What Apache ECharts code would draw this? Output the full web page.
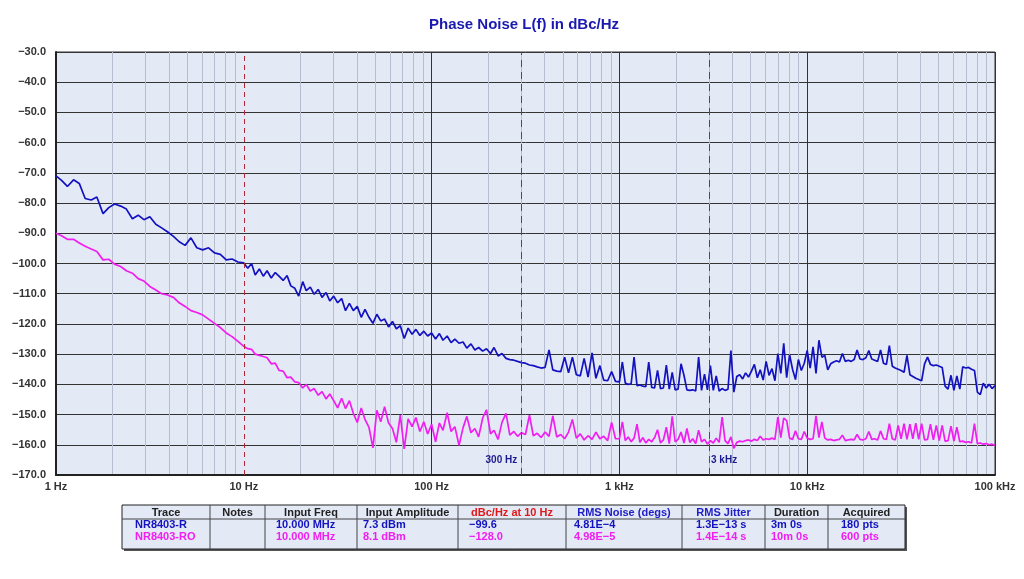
<!DOCTYPE html>
<html>
<head>
<meta charset="utf-8">
<script src="https://cdn.jsdelivr.net/npm/echarts@6/dist/echarts.min.js"></script>
<style>
html,body{margin:0;padding:0;background:#fff;}
#chart{width:1024px;height:579px;}
</style>
</head>
<body>
<div id="chart"></div>
<script>
// ---------- data ----------
const freqHz = [
  1,1.07,1.15,1.24,1.33,1.43,1.54,1.65,1.78,1.91,2.05,2.21,2.37,2.55,2.74,2.94,3.16,3.4,3.65,3.92,4.22,4.53,4.87,5.23,5.62,6.04,6.49,6.98,7.5,8.06,8.66,9.31,
  10,10.5,11,11.5,12.1,12.7,13.3,14,14.7,15.4,16.2,17,17.8,18.7,19.6,20.6,21.5,22.6,23.7,24.9,26.1,27.4,28.7,30.1,31.6,33.2,34.8,36.5,38.3,40.2,42.2,44.2,46.4,48.7,51.1,53.6,56.2,59,61.9,64.9,68.1,71.5,75,78.7,82.5,86.6,90.9,95.3,
  100,105,110,115,121,127,133,140,147,154,162,170,178,187,196,206,215,226,237,249,261,274,287,301,316,332,348,365,383,402,422,442,464,487,511,536,562,590,619,649,681,715,750,787,825,866,909,953,
  1000,1037,1075,1114,1155,1197,1241,1286,1334,1382,1433,1486,1540,1596,1655,1715,1778,1843,1911,1981,2054,2129,2207,2288,2371,2458,2548,2642,2738,2839,2943,3051,3162,3278,3398,3523,3652,3786,3924,4068,4217,4371,4532,4698,4870,5048,5233,5425,5623,5829,6043,6264,6494,6732,6978,7234,7499,7774,8058,8354,8660,8977,9306,9647,
  10000,10366,10746,11140,11548,11971,12409,12864,13335,13824,14330,14855,15399,15963,16548,17154,17783,18434,19110,19810,20535,21288,22067,22876,23714,24582,25483,26416,27384,28387,29427,30505,31623,32781,33982,35227,36517,37855,39242,40679,42170,43714,45316,46976,48697,50481,52330,54247,56234,58294,60430,62643,64938,67317,69783,72339,74989,77736,80584,83536,86596,89768,93057,96466,
  100000
];
// NR8403-R (dBc/Hz)
const traceR = [
  -71.0,-72.5,-74.5,-72.3,-73.5,-78.5,-79.0,-78.0,-83.5,-81.5,-80.3,-81.0,-82.0,-85.2,-84.0,-85.5,-84.5,-87.0,-88.2,-89.5,-91.0,-92.8,-94.0,-91.5,-94.8,-95.5,-94.8,-96.5,-97.0,-98.8,-98.5,-99.5,
  -99.8,-101.6,-100.0,-103.8,-101.8,-104.2,-102.4,-104.8,-103.0,-104.2,-105.6,-104.0,-107.4,-108.2,-110.8,-106.0,-109.0,-107.8,-110.2,-108.6,-111.2,-109.6,-112.4,-110.8,-113.0,-111.6,-115.6,-113.2,-115.6,-114.2,-117.8,-115.2,-117.8,-119.8,-116.8,-119.0,-118.4,-121.0,-119.2,-121.6,-120.6,-124.8,-121.4,-123.4,-121.8,-123.8,-122.4,-124.0,
  -123.0,-125.0,-123.2,-125.4,-124.0,-126.2,-125.0,-126.4,-126.0,-128.0,-126.6,-128.6,-127.8,-129.0,-128.2,-129.8,-127.8,-130.6,-129.8,-131.4,-131.8,-132.0,-132.4,-132.8,-133.0,-133.6,-133.8,-134.2,-134.6,-134.4,-128.6,-135.2,-135.6,-135.8,-131.0,-136.2,-131.0,-136.8,-137.2,-131.4,-137.6,-129.6,-138.0,-133.8,-138.6,-138.8,-135.8,-139.0,
  -139.2,-132.6,-139.6,-140.0,-139.8,-131.0,-140.4,-140.2,-140.6,-140.8,-132.6,-141.0,-141.2,-135.4,-141.4,-141.2,-133.6,-141.6,-136.0,-141.8,-141.6,-133.2,-137.0,-141.8,-142.0,-141.8,-142.2,-131.0,-142.0,-136.6,-141.8,-133.8,-142.0,-137.2,-142.2,-141.4,-142.0,-141.6,-128.8,-142.6,-137.4,-136.8,-138.2,-136.2,-137.6,-135.6,-133.4,-137.8,-135.2,-138.6,-132.4,-137.0,-134.8,-138.8,-129.8,-136.4,-126.4,-137.8,-130.2,-135.0,-138.4,-131.8,-135.4,-133.0,
  -128.8,-134.6,-127.6,-136.4,-125.4,-131.0,-130.4,-135.2,-133.2,-132.6,-132.2,-132.6,-129.8,-132.4,-132.0,-132.4,-131.8,-128.6,-131.6,-131.8,-131.2,-128.8,-131.6,-132.0,-132.4,-128.6,-133.0,-133.4,-127.2,-134.0,-134.6,-135.0,-135.4,-136.0,-130.4,-136.8,-137.4,-138.0,-138.4,-138.8,-133.2,-131.0,-133.4,-133.8,-133.6,-134.0,-134.4,-140.6,-141.6,-137.0,-142.0,-137.2,-141.6,-134.2,-134.6,-134.4,-135.0,-135.4,-142.6,-143.4,-139.6,-141.2,-140.0,-141.4,
  -140.4
];
// NR8403-RO (dBc/Hz)
const traceRO = [
  -90.0,-90.8,-92.0,-92.0,-93.2,-94.3,-95.2,-96.0,-98.8,-98.6,-100.2,-101.0,-102.4,-103.2,-105.0,-105.8,-107.6,-108.8,-110.0,-110.4,-111.2,-113.0,-114.2,-115.6,-116.2,-117.0,-118.4,-119.8,-121.2,-123.0,-124.2,-125.8,
  -127.4,-128.2,-128.4,-130.0,-130.4,-130.8,-131.2,-133.2,-133.0,-135.4,-135.6,-137.8,-137.6,-139.2,-139.4,-141.2,-140.0,-142.2,-141.4,-143.6,-142.4,-144.8,-143.2,-145.4,-147.8,-144.6,-148.0,-145.4,-149.6,-152.6,-147.8,-151.6,-154.2,-161.0,-148.6,-152.4,-147.4,-152.8,-154.6,-159.2,-150.2,-161.4,-151.4,-154.0,-151.0,-155.6,-152.4,-156.4,
  -153.2,-159.0,-152.8,-155.2,-149.4,-155.6,-154.0,-160.2,-154.4,-150.6,-156.0,-154.6,-157.4,-151.2,-148.4,-156.4,-155.2,-158.2,-152.6,-149.6,-156.8,-155.6,-157.2,-156.0,-156.6,-150.2,-157.0,-156.2,-157.6,-155.8,-157.2,-150.4,-157.4,-156.6,-158.0,-155.8,-151.6,-157.8,-156.4,-158.4,-157.0,-158.2,-155.8,-158.0,-157.2,-158.6,-152.6,-158.0,
  -158.0,-152.4,-158.6,-157.4,-159.0,-157.8,-153.2,-159.2,-157.6,-159.4,-158.2,-159.0,-157.6,-155.0,-159.4,-158.4,-154.2,-159.6,-150.6,-159.0,-158.2,-155.8,-159.4,-154.6,-159.2,-158.0,-159.6,-155.2,-159.0,-158.2,-159.8,-158.6,-159.4,-157.8,-159.2,-150.8,-158.6,-159.6,-157.4,-161.2,-159.2,-158.8,-159.0,-158.6,-158.4,-158.8,-158.2,-158.6,-157.2,-158.4,-158.0,-158.2,-157.8,-158.2,-150.8,-157.6,-151.2,-152.0,-157.8,-158.2,-155.4,-158.0,-158.2,-155.6,
  -157.8,-158.2,-158.0,-150.4,-157.6,-152.4,-157.8,-158.4,-158.2,-158.6,-158.4,-158.2,-156.8,-158.6,-158.4,-158.2,-158.4,-156.6,-158.2,-158.4,-158.0,-155.6,-158.2,-158.0,-158.4,-155.4,-158.0,-158.2,-153.0,-158.0,-158.4,-153.6,-158.0,-153.0,-158.2,-153.2,-158.0,-152.8,-158.2,-153.0,-158.4,-158.2,-153.2,-158.4,-153.6,-158.6,-153.6,-158.8,-158.6,-153.8,-158.8,-154.2,-159.0,-158.8,-159.2,-159.0,-159.4,-153.0,-159.6,-159.4,-159.8,-159.6,-160.0,-159.8,
  -160.2
];
const xTickLabels = {1:'1 Hz',10:'10 Hz',100:'100 Hz',1000:'1 kHz',10000:'10 kHz',100000:'100 kHz'};
const markerFreqs = [300, 3000];
const markerLabels = ['300 Hz', '3 kHz'];
const refFreq = 10;

// table content
const tableHeaders = ['Trace','Notes','Input Freq','Input Amplitude','dBc/Hz at 10 Hz','RMS Noise (degs)','RMS Jitter','Duration','Acquired'];
const rowR  = ['NR8403-R','','10.000 MHz','7.3 dBm','\u221299.6','4.81E\u22124','1.3E\u221213 s','3m 0s','180 pts'];
const rowRO = ['NR8403-RO','','10.000 MHz','8.1 dBm','\u2212128.0','4.98E\u22125','1.4E\u221214 s','10m 0s','600 pts'];

// ---------- layout / style ----------
const BLUE = '#1212c0', MAG = '#f01ef0';
const FONT = '"Liberation Sans", Arial, sans-serif';
const colX = [122, 210, 265, 357, 458, 566, 682, 765, 828, 905];
const textX = [135, 0, 276, 363, 469, 574, 696, 771, 841];
const headColors = ['#222','#222','#222','#222','#e01818','#2020c8','#2020c8','#222','#222'];
const tTop = 505, tHead = 519, tBot = 549;

const tableEls = [];
tableEls.push({type:'rect', shape:{x:colX[0]+2, y:tTop+2, width:colX[9]-colX[0], height:tBot-tTop}, style:{fill:'#555'}, silent:true});
tableEls.push({type:'rect', shape:{x:colX[0], y:tTop, width:colX[9]-colX[0], height:tBot-tTop}, style:{fill:'#e4e9f6', stroke:'#222', lineWidth:1}, silent:true});
tableEls.push({type:'line', shape:{x1:colX[0], y1:tHead, x2:colX[9], y2:tHead}, style:{stroke:'#444', lineWidth:1}});
for (let i = 1; i < colX.length - 1; i++) {
  tableEls.push({type:'line', shape:{x1:colX[i], y1:tTop, x2:colX[i], y2:tBot}, style:{stroke:'#444', lineWidth:1}});
}
tableHeaders.forEach((h, i) => {
  tableEls.push({type:'text', x:(colX[i]+colX[i+1])/2, y:(tTop+tHead)/2+0.5,
    style:{text:h, fill:headColors[i], font:'bold 11px '+FONT, textAlign:'center', textVerticalAlign:'middle'}});
});
[rowR, rowRO].forEach((row, r) => {
  row.forEach((t, i) => {
    if (!t) return;
    tableEls.push({type:'text', x:textX[i], y:r === 0 ? 525 : 537,
      style:{text:t, fill:r === 0 ? BLUE : MAG, font:'bold 11px '+FONT, textAlign:'left', textVerticalAlign:'middle'}});
  });
});

const chart = echarts.init(document.getElementById('chart'), null, {renderer:'canvas'});
chart.setOption({
  animation: false,
  backgroundColor: '#ffffff',
  title: {
    text: 'Phase Noise L(f) in dBc/Hz',
    left: 519, top: 12, textAlign: 'center',
    textStyle: {color:'#1a1ab0', fontSize:15, fontWeight:'bold', fontFamily:FONT}
  },
  grid: {left:56, right:29, top:52, bottom:104, show:true, backgroundColor:'#e4e9f6', borderColor:'#333', borderWidth:1},
  xAxis: {
    type: 'log', logBase: 10, min: 1, max: 100000,
    axisLine: {show:true, lineStyle:{color:'#222', width:2}},
    axisTick: {show:false},
    minorTick: {show:false, splitNumber:9},
    minorSplitLine: {show:true, lineStyle:{color:'#b6bdcf', width:1}},
    splitLine: {show:true, lineStyle:{color:['#333','rgba(0,0,0,0)','#333','#333','#333','#333'], width:1}},
    axisLabel: {color:'#333', fontWeight:'bold', fontSize:11, fontFamily:FONT, margin:6,
      formatter: v => xTickLabels[Math.round(v)] || ''}
  },
  yAxis: {
    type: 'value', min: -170, max: -30, interval: 10,
    axisLine: {show:true, lineStyle:{color:'#222', width:2}},
    axisTick: {show:false},
    splitLine: {show:true, lineStyle:{color:'#333', width:1}},
    axisLabel: {color:'#333', fontWeight:'bold', fontSize:11, fontFamily:FONT, margin:10,
      formatter: v => (v < 0 ? '\u2212' : '') + Math.abs(v).toFixed(1)}
  },
  series: [
    {
      name: 'NR8403-R', type: 'line', symbol: 'none', sampling: null,
      data: freqHz.map((f, i) => [f, traceR[i]]),
      lineStyle: {color:BLUE, width:1.7}, z: 3,
      markLine: {
        silent: true, symbol: 'none', label: {show:false},
        data: [
          {xAxis: refFreq, lineStyle:{color:'#b02838', type:[5,4], width:1}},
          {xAxis: markerFreqs[0], lineStyle:{color:'#3c3cd8', type:[7,5], width:1}},
          {xAxis: markerFreqs[1], lineStyle:{color:'#3c3cd8', type:[7,5], width:1}}
        ]
      },
      markPoint: {
        silent: true, symbol: 'rect', symbolSize: 0,
        data: [
          {coord:[markerFreqs[0], -165], label:{show:true, formatter:markerLabels[0], position:'left', distance:4, color:'#1a1a90', fontWeight:'bold', fontSize:10, fontFamily:FONT}},
          {coord:[markerFreqs[1], -165], label:{show:true, formatter:markerLabels[1], position:'right', distance:2, color:'#1a1a90', fontWeight:'bold', fontSize:10, fontFamily:FONT}}
        ]
      }
    },
    {
      name: 'NR8403-RO', type: 'line', symbol: 'none', sampling: null,
      data: freqHz.map((f, i) => [f, traceRO[i]]),
      lineStyle: {color:MAG, width:1.7}, z: 4
    }
  ],
  graphic: tableEls
});
</script>
</body>
</html>
